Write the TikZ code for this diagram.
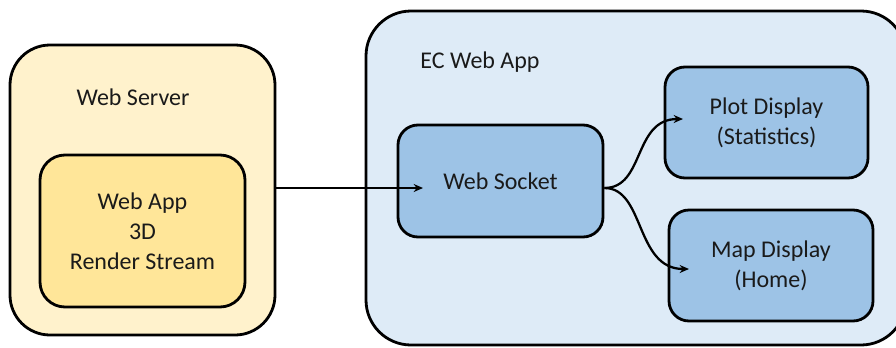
\documentclass[tikz,border=0pt]{standalone}
\usepackage{fontspec}
\setmainfont{Carlito}
\usetikzlibrary{arrows.meta}
\definecolor{srvfill}{HTML}{FFF2CC}
\definecolor{appfill}{HTML}{FFE699}
\definecolor{ecfill}{HTML}{DEEBF7}
\definecolor{boxfill}{HTML}{9DC3E6}
\definecolor{txt}{HTML}{1A1A1A}
\tikzset{
  frame/.style={draw=black, line width=2.1pt, rounded corners=#1, inner sep=0pt},
  lbl/.style={font=\fontsize{18}{22.5}\selectfont, text=txt, align=center},
  link/.style={line width=1.7pt, -{Stealth[length=7pt, width=6pt]}}
}
\begin{document}
\begin{tikzpicture}[x=0.75pt, y=-0.75pt]
  \useasboundingbox (0,0) rectangle (896,347);
  \clip (0,0) rectangle (896,347);
  % web server side
  \node[frame=30pt, fill=srvfill, minimum width=198.75pt, minimum height=217.5pt] (wsrv) at (142.5,190) {};
  \node[lbl] (wsrvlbl) at (133,97) {Web Server};
  \node[frame=18.75pt, fill=appfill, minimum width=153.75pt, minimum height=114pt, lbl] (webapp) at (142.5,231) {Web App\\3D\\Render Stream};
  % client web app
  \node[frame=33.75pt, fill=ecfill, minimum width=405pt, minimum height=250.5pt] (ec) at (636,178) {};
  \node[lbl] (eclbl) at (480,62) {EC Web App};
  \node[frame=15pt, fill=boxfill, minimum width=153.75pt, minimum height=84pt, lbl] (sock) at (500.5,181) {Web Socket};
  \node[frame=15pt, fill=boxfill, minimum width=152.25pt, minimum height=83.25pt, lbl] (plot) at (766.5,122.5) {Plot Display\\(Statistics)};
  \node[frame=15pt, fill=boxfill, minimum width=153pt, minimum height=83.25pt, lbl] (map) at (771,265.5) {Map Display\\(Home)};
  % connectors
  \coordinate (sockin) at (423,188);
  \coordinate (plotin) at (683,119);
  \coordinate (mapin) at (689,269);
  \draw[link] (wsrv.east |- sockin) -- (sockin);
  \draw[link] (sock.east |- sockin) .. controls (645,188) and (633,119) .. (plotin);
  \draw[link] (sock.east |- sockin) .. controls (645,188) and (635,269) .. (mapin);
\end{tikzpicture}
\end{document}
